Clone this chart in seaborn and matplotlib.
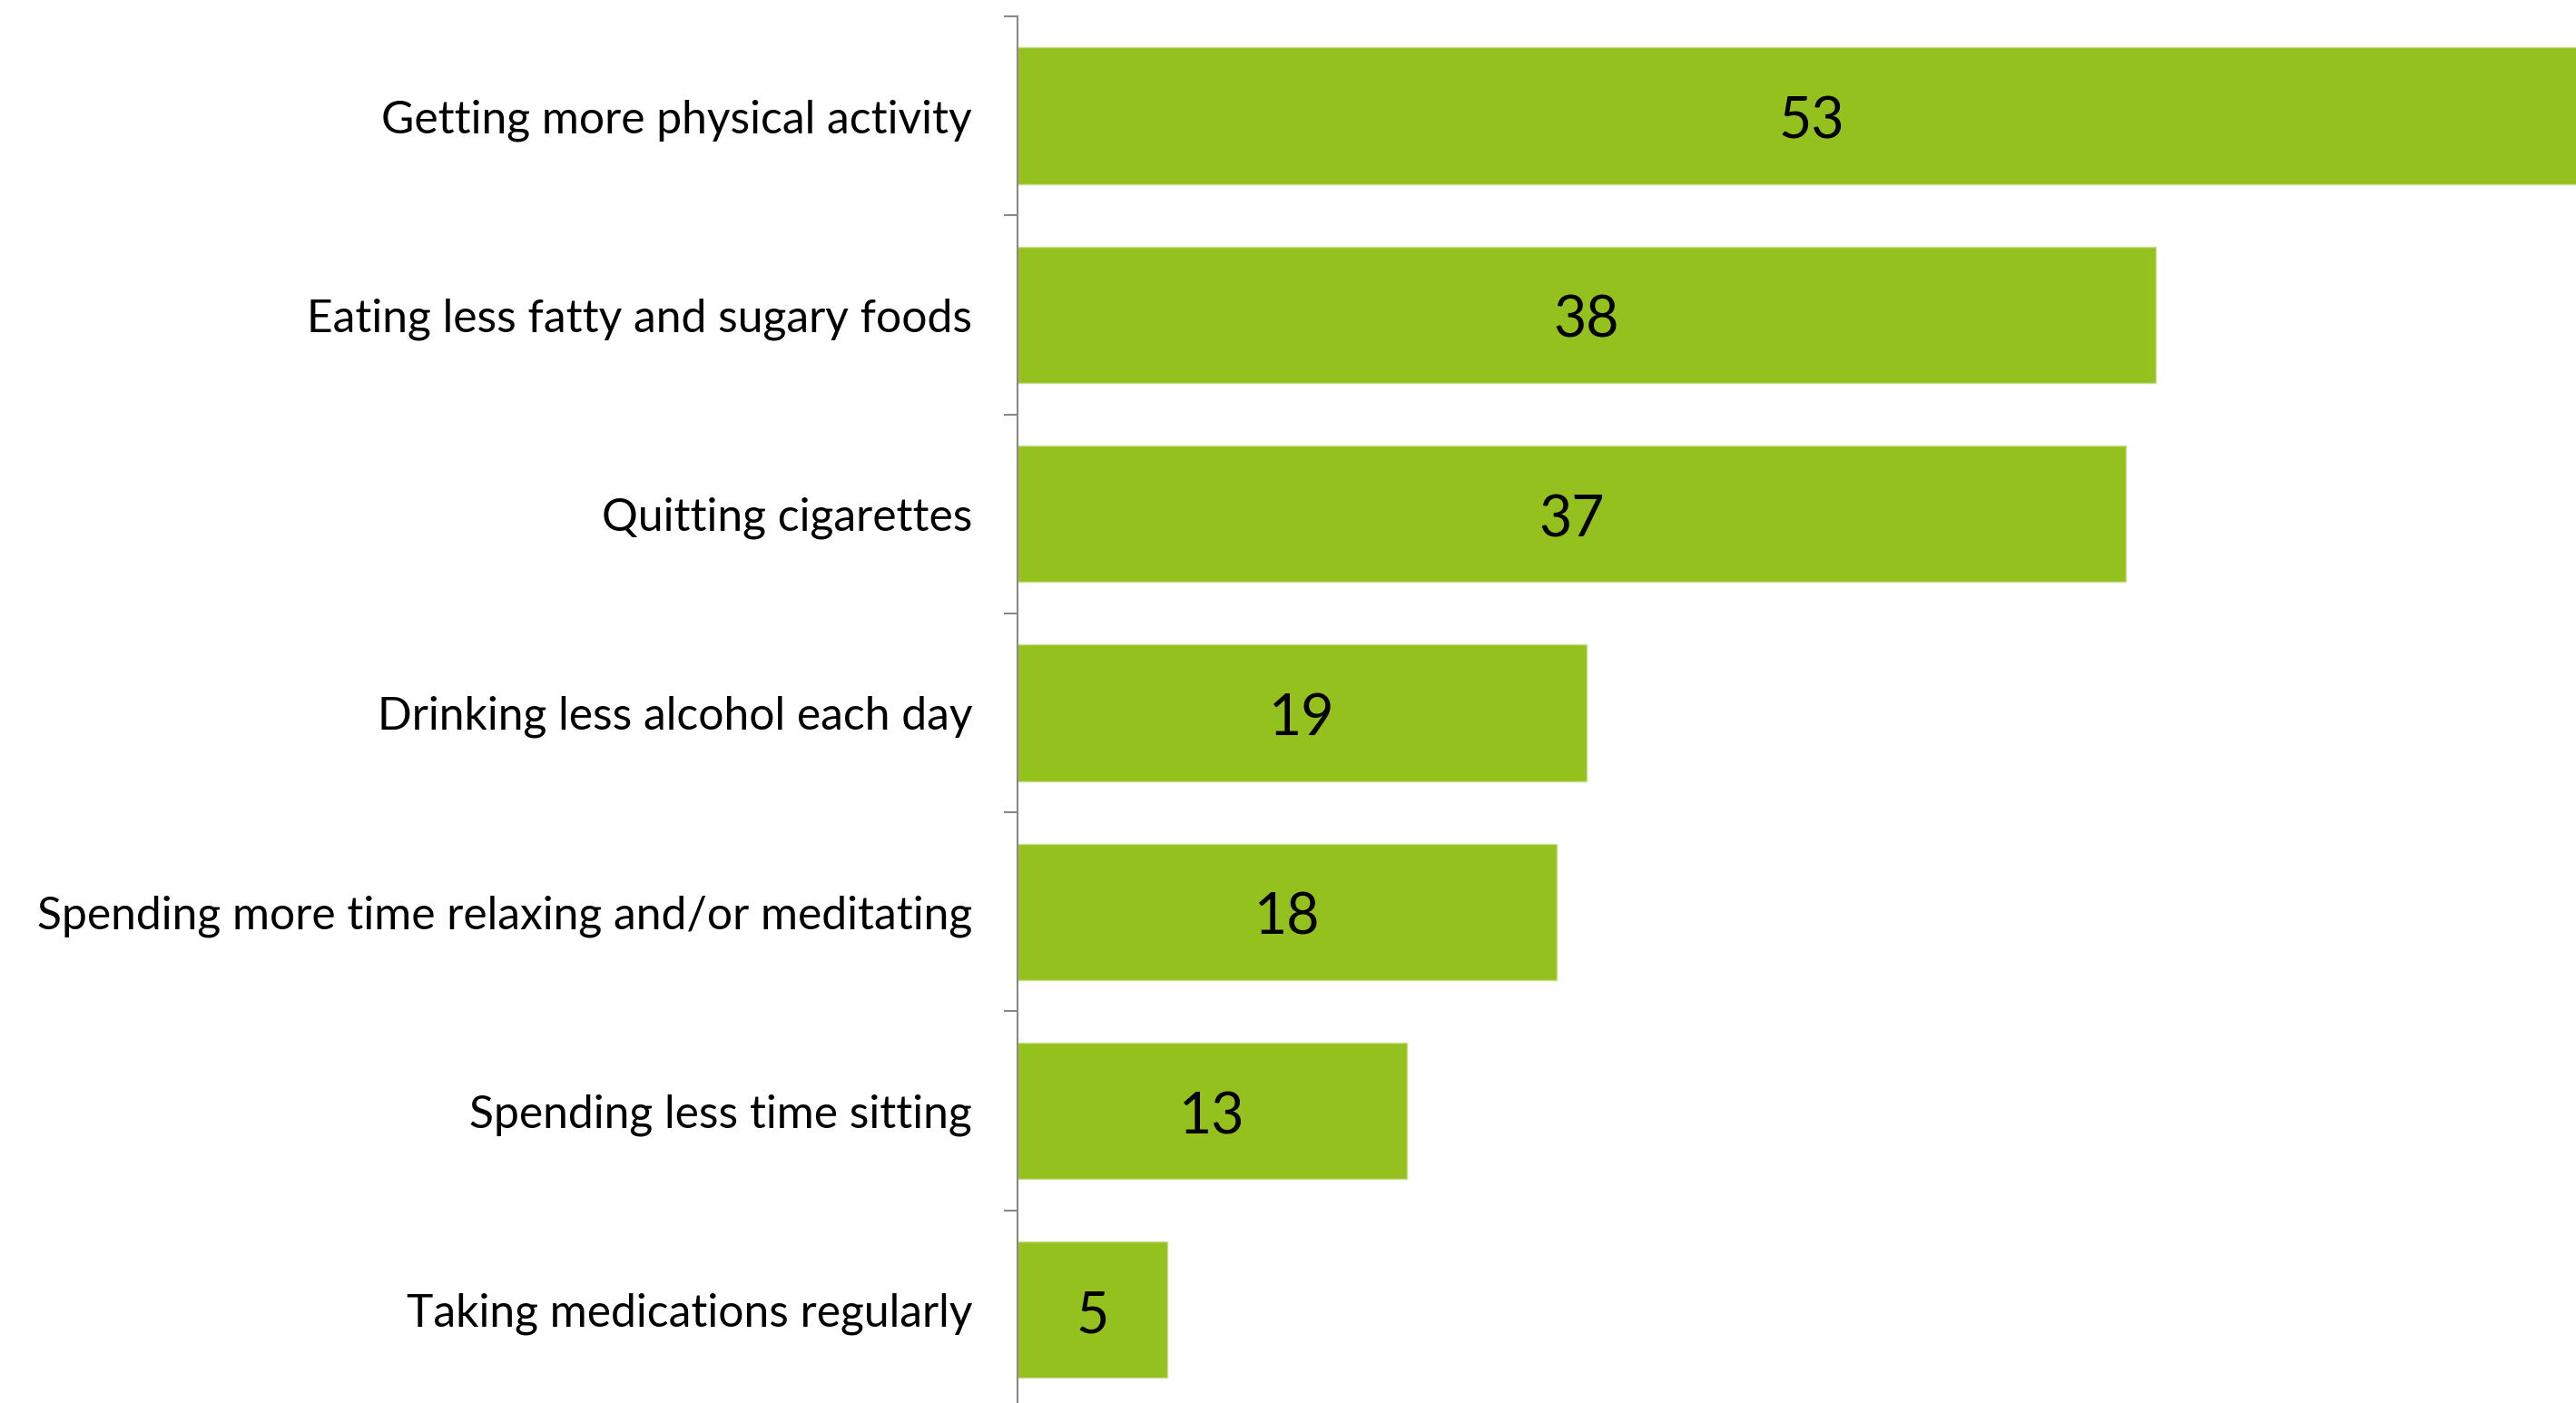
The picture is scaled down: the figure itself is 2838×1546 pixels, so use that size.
import matplotlib
matplotlib.use("Agg")
import matplotlib.pyplot as plt
import seaborn as sns
import pandas as pd
import numpy as np

categories = [
    "Getting more physical activity",
    "Eating less fatty and sugary foods",
    "Quitting cigarettes",
    "Drinking less alcohol each day",
    "Spending more time relaxing and/or meditating",
    "Spending less time sitting",
    "Taking medications regularly",
]
values = [53, 38, 37, 19, 18, 13, 5]

df = pd.DataFrame({"category": categories, "value": values})

sns.set_theme(style="white")
plt.rcParams["font.family"] = ["Lato", "DejaVu Sans"]

BAR_COLOR = "#95c11f"
AXIS_GRAY = "#898989"

fig = plt.figure(figsize=(28.38, 15.46), dpi=100)
ax = fig.add_axes([0.395, -0.0045, 0.605, 0.9929])

sns.barplot(data=df, y="category", x="value", orient="h", color=BAR_COLOR,
            width=0.685, edgecolor="#c6df8a", linewidth=1.0, ax=ax,
            saturation=1, errorbar=None)

ax.set_xlim(0, 52.03)
ax.set_ylim(len(categories) - 0.5, -0.5)

# value labels centred in each bar (baseline shifted so the digits sit mid-bar)
for i, v in enumerate(values):
    ax.annotate(f"{v}", xy=(v / 2, i), xytext=(0, -18), textcoords="offset points",
                ha="center", va="baseline", fontsize=45, color="black",
                annotation_clip=False)

# category labels sit between the boundary ticks
ax.set_yticks(np.arange(-0.5, len(categories)), labels=[""] * (len(categories) + 1))
ax.set_yticks(np.arange(len(categories)), labels=categories, minor=True)
ax.tick_params(axis="y", which="major", length=11, width=1.5, color=AXIS_GRAY,
               direction="out", left=True)
ax.tick_params(axis="y", which="minor", length=0, pad=36, labelsize=35.8,
               labelcolor="black", left=True)
ax.set_xticks([])
ax.set_xlabel("")
ax.set_ylabel("")

for side in ["top", "right", "bottom"]:
    ax.spines[side].set_visible(False)
ax.spines["left"].set_color(AXIS_GRAY)
ax.spines["left"].set_linewidth(1.5)

fig.savefig("out.png", dpi=100, facecolor="white")
